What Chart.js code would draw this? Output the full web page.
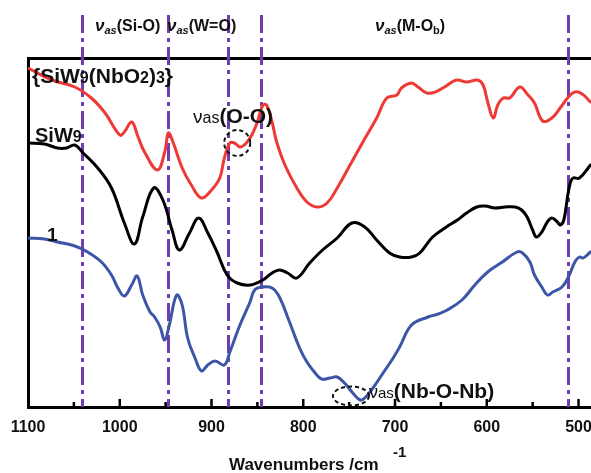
<!DOCTYPE html>
<html>
<head>
<meta charset="utf-8">
<script src="https://cdn.jsdelivr.net/npm/chart.js@4"></script>
<style>
html,body{margin:0;padding:0;background:#fff;overflow:hidden;}
#wrap{width:591px;height:473px;}
</style>
</head>
<body>
<div id="wrap"><canvas id="c" width="591" height="473"></canvas></div>
<script>
// ---- data (wavenumber, arbitrary offset transmittance) ----
const redWn   = [1100,1074,1049,1031,1016,1000,995,987,980,973,959,951,947,942,932,922,911,900,891,886,880,875,869,862,855,850,844,840,834,829,820,807,796,785,774,763,749,735,720,709,698,693,682,675,665,656,646,633,622,610,604,599,593,588,582,575,564,555,548,539,529,520,511,504,496,487];
const redVal  = [339,327,320,309,294,272,275,285,270,255,237,255,274,265,239,222,209,217,229,249,264,264,260,264,274,285,302,302,285,265,242,219,205,200,204,219,242,265,289,309,312,319,324,320,314,315,320,327,325,327,322,305,289,302,309,309,320,312,304,286,289,299,310,315,313,305];

const blackWn  = [1100,1082,1068,1058,1049,1040,1024,1009,995,984,975,963,953,943,935,924,914,904,894,883,872,858,844,834,826,817,807,793,779,763,747,733,720,706,695,682,673,659,644,632,622,611,602,591,580,569,562,556,550,546,540,534,529,523,520,516,512,509,506,499,487];
const blackVal = [264,263,259,259,262,254,239,219,184,163,190,219,207,177,157,174,189,174,155,132,124,122,127,134,137,134,129,144,157,169,184,180,167,154,150,150,154,170,180,187,194,200,201,199,200,200,197,190,177,170,175,185,189,185,182,187,210,224,229,229,242];

const blueWn  = [1100,1082,1068,1049,1035,1020,1009,1002,995,987,981,975,967,962,956,951,946,938,932,926,918,911,904,896,886,880,869,858,853,845,834,826,815,804,796,787,780,771,763,755,746,738,733,724,713,702,695,682,664,653,643,627,613,599,583,567,561,553,548,540,534,528,518,511,504,499,495,487];
const blueVal = [169,168,165,161,155,145,132,119,111,122,131,112,95,90,80,67,82,112,102,69,49,36,42,46,42,55,82,105,117,120,119,110,85,59,45,34,28,29,30,24,14,7,9,19,34,49,60,82,90,93,97,107,122,135,145,155,154,145,132,120,112,115,120,130,145,150,149,155];

const xTicks = [1100,1000,900,800,700,600,500];
const bandLines = [1041,947,882,846,512];

const toXY = (xs, ys) => xs.map((x, i) => ({x: x, y: ys[i]}));

const PURPLE = '#6f3db0';
const FONT = '"Liberation Sans", Arial, sans-serif';

function drawRich(ctx, x, y, parts) {
  let cx = x;
  for (const p of parts) {
    ctx.font = p.font;
    ctx.fillText(p.t, cx, y + (p.dy || 0));
    cx += ctx.measureText(p.t).width;
  }
}

const decor = {
  id: 'decor',
  beforeDatasetsDraw(chart) {
    const ctx = chart.ctx, xs = chart.scales.x, a = chart.chartArea;
    ctx.save();
    ctx.strokeStyle = PURPLE;
    ctx.lineWidth = 3;
    ctx.setLineDash([18, 5, 4, 5]);
    for (const w of bandLines) {
      const px = Math.round(xs.getPixelForValue(w)) + 0.5;
      ctx.beginPath();
      ctx.moveTo(px, 15);
      ctx.lineTo(px, a.bottom);
      ctx.stroke();
    }
    ctx.restore();
  },
  afterDraw(chart) {
    const ctx = chart.ctx, xs = chart.scales.x, ys = chart.scales.y, a = chart.chartArea;
    ctx.save();
    ctx.strokeStyle = '#000';
    ctx.lineWidth = 2.5;
    for (let w = 1050; w >= 500; w -= 50) {
      const px = xs.getPixelForValue(w);
      const len = (w % 100 === 0) ? 8 : 5;
      ctx.beginPath();
      ctx.moveTo(px, a.bottom);
      ctx.lineTo(px, a.bottom - len);
      ctx.stroke();
    }
    ctx.fillStyle = '#111';
    ctx.textBaseline = 'alphabetic';
    ctx.textAlign = 'left';
    const nu = 'italic bold 17px ' + FONT, sub = 'italic bold 11px ' + FONT, main = 'bold 16px ' + FONT;
    drawRich(ctx, 95, 31, [{t:'ν', font:nu}, {t:'as', font:sub, dy:3}, {t:'(Si-O)', font:main}]);
    drawRich(ctx, 167, 31, [{t:'ν', font:nu}, {t:'as', font:sub, dy:3}, {t:'(W=O)', font:main}]);
    drawRich(ctx, 375, 31, [{t:'ν', font:nu}, {t:'as', font:sub, dy:3}, {t:'(M-O', font:main}, {t:'b', font:'bold 11px ' + FONT, dy:3}, {t:')', font:main}]);
    const big = 'bold 21px ' + FONT, small = 'bold 16px ' + FONT;
    drawRich(ctx, 32, 83, [{t:'{SiW', font:big}, {t:'9', font:small}, {t:'(NbO', font:big}, {t:'2', font:small}, {t:')', font:big}, {t:'3', font:small}, {t:'}', font:big}]);
    drawRich(ctx, 35, 142, [{t:'SiW', font:'bold 20px ' + FONT}, {t:'9', font:small}]);
    drawRich(ctx, 47, 241, [{t:'1', font:'bold 19px ' + FONT}]);
    drawRich(ctx, 193, 123, [{t:'ν', font:'19px ' + FONT}, {t:'as', font:'16px ' + FONT}, {t:'(O-O)', font:'bold 21px ' + FONT}]);
    drawRich(ctx, 369, 398, [{t:'ν', font:'18px ' + FONT}, {t:'as', font:'15px ' + FONT}, {t:'(Nb-O-Nb)', font:'bold 21px ' + FONT}]);
    ctx.strokeStyle = '#111';
    ctx.lineWidth = 2;
    ctx.setLineDash([4, 3]);
    ctx.beginPath();
    ctx.ellipse(xs.getPixelForValue(872), ys.getPixelForValue(264), 13, 13, 0, 0, Math.PI * 2);
    ctx.stroke();
    ctx.beginPath();
    ctx.ellipse(xs.getPixelForValue(748), ys.getPixelForValue(11), 18, 9.5, 0, 0, Math.PI * 2);
    ctx.stroke();
    ctx.setLineDash([]);
    ctx.fillStyle = '#111';
    drawRich(ctx, 229, 470, [{t:'Wavenumbers /cm', font:'bold 17px ' + FONT}]);
    drawRich(ctx, 393, 457, [{t:'-1', font:'bold 15px ' + FONT}]);
    ctx.restore();
  }
};

new Chart(document.getElementById('c'), {
  type: 'line',
  data: {
    datasets: [
      {label: '{SiW9(NbO2)3}', data: toXY(redWn, redVal), borderColor: '#ee3a36', borderWidth: 3},
      {label: 'SiW9', data: toXY(blackWn, blackVal), borderColor: '#000000', borderWidth: 3},
      {label: '1', data: toXY(blueWn, blueVal), borderColor: '#3d55a6', borderWidth: 3}
    ]
  },
  options: {
    responsive: false,
    animation: false,
    devicePixelRatio: 1,
    elements: {
      point: {radius: 0},
      line: {tension: 0.4, fill: false, borderJoinStyle: 'round', borderCapStyle: 'round'}
    },
    layout: {padding: {left: 28, top: 58, right: 0, bottom: 0}},
    plugins: {legend: {display: false}, tooltip: {enabled: false}, title: {display: false}},
    scales: {
      x: {
        type: 'linear', position: 'bottom', reverse: true, min: 486.4, max: 1100,
        grid: {display: false, drawTicks: false},
        border: {display: true, width: 3, color: '#000'},
        ticks: {padding: 11, color: '#111', font: {family: FONT, size: 16, weight: 'bold'}, maxRotation: 0, autoSkip: false, callback: v => String(v)},
        afterBuildTicks(s) { s.ticks = xTicks.map(v => ({value: v})); },
        afterFit(s) { s.height = 66; s.paddingLeft = 0; s.paddingRight = 0; }
      },
      xTop: {
        type: 'linear', position: 'top', reverse: true, min: 486.4, max: 1100,
        grid: {display: false, drawTicks: false},
        border: {display: true, width: 3, color: '#000'},
        ticks: {display: false},
        afterFit(s) { s.height = 0; s.paddingLeft = 0; s.paddingRight = 0; }
      },
      y: {
        type: 'linear', min: 0, max: 349,
        grid: {display: false, drawTicks: false},
        border: {display: true, width: 3, color: '#000'},
        ticks: {display: false},
        afterFit(s) { s.width = 0; }
      }
    }
  },
  plugins: [decor]
});
</script>
</body>
</html>
